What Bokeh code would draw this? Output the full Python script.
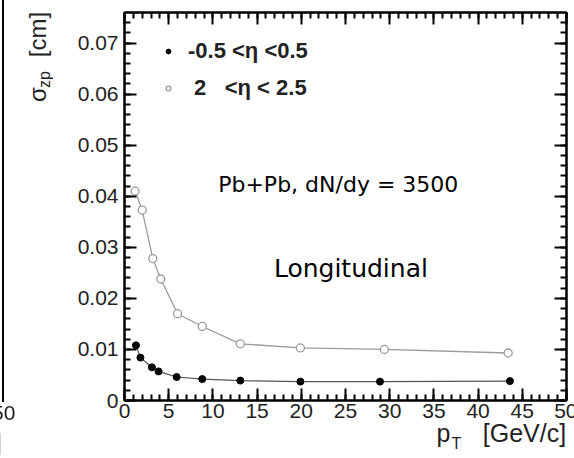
from bokeh.plotting import figure
from bokeh.layouts import row
from bokeh.models import (LinearAxis, SingleIntervalTicker, FixedTicker, CustomJSTickFormatter,
                          Label, Legend, LegendItem, Range1d, Div)
from bokeh.embed import file_html
from bokeh.resources import INLINE

# ---- data ----
pt_mid = [1.3, 1.8, 3.1, 3.85, 5.9, 8.8, 13.1, 19.9, 28.9, 43.6]
sigma_mid = [0.0108, 0.0084, 0.0065, 0.0057, 0.0046, 0.0042, 0.0039, 0.0037, 0.0037, 0.0038]
pt_fwd = [1.2, 2.0, 3.2, 4.1, 6.0, 8.8, 13.1, 19.9, 29.4, 43.4]
sigma_fwd = [0.0410, 0.0373, 0.0278, 0.0238, 0.0170, 0.0145, 0.0111, 0.0103, 0.0100, 0.0093]
legend_labels = ["-0.5 <\u03b7 <0.5", "\u00a02\u00a0\u00a0\u00a0<\u03b7 < 2.5"]
x_tick_step = 5
y_tick_step = 0.01
x_limits = (0, 50)
y_limits = (0, 0.076)
y_title_parts = ["\u03c3", "zp", "[cm]"]
x_title_parts = ["p", "T", "[GeV/c]"]

ROOTFONT = "Liberation Sans"
NOTEFONT = "DejaVu Sans"

STRIP = 20                      # narrow strip with the edge of the neighbouring panel
W, H = 574, 458
FRAME_LEFT_PAGE, FRAME_RIGHT_PAGE = 121, 563
FT, FB = 12, 58
FRAME_TOP, FRAME_BOTTOM = FT, H - FB
FL = FRAME_LEFT_PAGE - STRIP

p = figure(frame_width=FRAME_RIGHT_PAGE - FRAME_LEFT_PAGE, frame_height=FRAME_BOTTOM - FRAME_TOP,
           output_backend="svg", toolbar_location=None,
           x_range=Range1d(*x_limits), y_range=Range1d(*y_limits),
           min_border_left=FL, min_border_right=W - FRAME_RIGHT_PAGE, min_border_top=FT,
           min_border_bottom=FB, background_fill_color="white", border_fill_color="white")
p.xgrid.visible = False
p.ygrid.visible = False
p.outline_line_color = "black"
p.outline_line_width = 2

# pixel-like helper ranges used only to place the axis titles
p.extra_y_ranges = {"py": Range1d(FRAME_BOTTOM, FRAME_TOP)}
p.extra_x_ranges = {"px": Range1d(FRAME_LEFT_PAGE, FRAME_RIGHT_PAGE)}

xt = SingleIntervalTicker(interval=x_tick_step, num_minor_ticks=5)
yt = SingleIntervalTicker(interval=y_tick_step, num_minor_ticks=5)


def style_axis(ax, labels=True):
    ax.axis_line_color = "black"
    ax.axis_line_width = 2
    ax.major_tick_in = 12
    ax.major_tick_out = 0
    ax.minor_tick_in = 6
    ax.minor_tick_out = 0
    ax.major_tick_line_width = 2
    ax.minor_tick_line_width = 2
    ax.major_tick_line_color = "black"
    ax.minor_tick_line_color = "black"
    if labels:
        ax.major_label_text_font = ROOTFONT
        ax.major_label_text_font_size = "21px"
        ax.major_label_text_color = "#222222"
    else:
        ax.formatter = CustomJSTickFormatter(code="return '';")
        ax.major_label_text_font_size = "1px"
        ax.major_label_standoff = 0


xa = p.xaxis[0]
ya = p.yaxis[0]
xa.ticker = xt
ya.ticker = yt
style_axis(xa)
style_axis(ya)
xa.major_label_standoff = 3
ya.major_label_standoff = 6
ya.formatter = CustomJSTickFormatter(code="return tick == 0 ? '0' : tick.toFixed(2);")

top = LinearAxis(ticker=xt)
style_axis(top, labels=False)
p.add_layout(top, "above")
right = LinearAxis(ticker=yt)
style_axis(right, labels=False)
p.add_layout(right, "right")


def title_axis(ticks, texts, size, standoff, orientation, **kw):
    ax = LinearAxis(ticker=FixedTicker(ticks=ticks, minor_ticks=[]),
                    major_label_overrides=dict(zip(ticks, texts)),
                    major_label_orientation=orientation,
                    major_label_text_font=ROOTFONT, major_label_text_font_size=size,
                    major_label_text_color="#222222", major_label_standoff=standoff,
                    axis_line_color=None, major_tick_line_color=None,
                    minor_tick_line_color=None, major_tick_in=0, major_tick_out=0,
                    minor_tick_in=0, minor_tick_out=0, **kw)
    return ax


# y-axis title: sigma, subscript zp, [cm]  (reads bottom to top, at the top end)
p.add_layout(title_axis([79], [y_title_parts[1]], "16px", 22, "vertical", y_range_name="py"), "left")
p.add_layout(title_axis([94, 34], [y_title_parts[0], y_title_parts[2]], "24px", -18, "vertical",
                        y_range_name="py"), "left")

# x-axis title: p, subscript T, [GeV/c]  (at the right end)
p.add_layout(title_axis([440, 521], [x_title_parts[0], x_title_parts[2]], "25px", -2, "horizontal",
                        x_range_name="px"), "below")
p.add_layout(title_axis([453], [x_title_parts[1]], "16px", -15, "horizontal",
                        x_range_name="px"), "below")

# ---- series ----
p.line(pt_fwd, sigma_fwd, line_color="#9a9a9a", line_width=1.3)
r_fwd = p.scatter(pt_fwd, sigma_fwd, marker="circle", size=8, fill_color="white",
                  line_color="#9a9a9a", line_width=1.3)
p.line(pt_mid, sigma_mid, line_color="#555555", line_width=1.2)
r_mid = p.scatter(pt_mid, sigma_mid, marker="circle", size=7, fill_color="black",
                  line_color="black")

# legend (ROOT-like: small dots, bold labels)
legend = Legend(items=[LegendItem(label=legend_labels[0], renderers=[r_mid]),
                       LegendItem(label=legend_labels[1], renderers=[r_fwd])],
                location=(38, 299), orientation="vertical",
                border_line_color=None, background_fill_alpha=0,
                label_text_font=ROOTFONT, label_text_font_style="bold",
                label_text_font_size="22px", label_text_color="#222222",
                glyph_width=12, glyph_height=26, label_height=26,
                label_standoff=14, spacing=11, padding=0, margin=0)
p.add_layout(legend)

# ---- annotations inside the frame ----
p.add_layout(Label(x=10.6, y=0.0424, text="Pb+Pb, dN/dy = 3500", text_font=NOTEFONT,
                   text_font_size="22px", text_baseline="middle", text_align="left",
                   text_color="black"))
p.add_layout(Label(x=16.9, y=0.0259, text="Longitudinal", text_font=NOTEFONT,
                   text_font_size="25px", text_baseline="middle", text_align="left",
                   text_color="black"))

# ---- remnant of the neighbouring panel (left edge of the picture) ----
edge_html = (
    '<div style="position:absolute;left:2px;top:0px;width:2px;height:402px;background:#000;"></div>'
    '<div style="position:absolute;left:-8px;top:401px;font-family:\'Liberation Sans\';'
    'font-size:21px;color:#222;line-height:24px;opacity:0.99;will-change:transform;">50</div>'
    '<div style="position:absolute;left:-78px;top:428px;font-family:\'Liberation Sans\';'
    'font-size:24px;color:#222;line-height:28px;white-space:nowrap;opacity:0.99;'
    'will-change:transform;">[GeV/c]</div>'
)
edge = Div(text=edge_html, width=STRIP, height=H, margin=0,
           styles={"position": "relative", "overflow": "hidden", "background": "white"})

layout = row(edge, p, spacing=0)
open("out.html", "w").write(file_html(layout, INLINE))
